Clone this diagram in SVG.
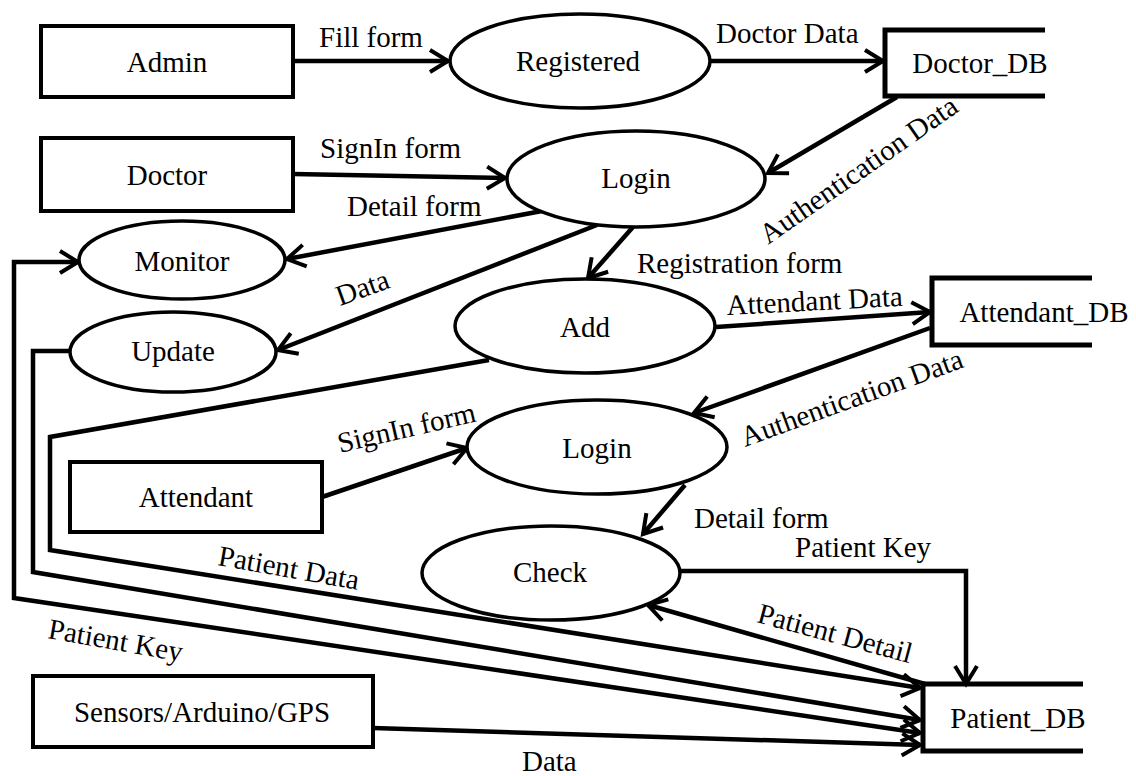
<svg xmlns="http://www.w3.org/2000/svg" width="1136" height="776" viewBox="0 0 1136 776" font-family="'Liberation Serif', 'DejaVu Serif', 'Times New Roman', serif">
<style>
text{font-family:'Liberation Serif','DejaVu Serif','Times New Roman',serif;font-size:29px;fill:#000}
.c{text-anchor:middle}
.box{fill:#fff;stroke:#000;stroke-width:4}
.proc{fill:#fff;stroke:#000;stroke-width:3.5}
.db{fill:none;stroke:#000;stroke-width:5}
.ln{fill:none;stroke:#000;stroke-width:4.5;stroke-linejoin:miter}
.a{marker-end:url(#ah)}
</style>
<defs>
<marker id="ah" viewBox="-2 -2 24 26" refX="18" refY="11" markerWidth="24" markerHeight="26" markerUnits="userSpaceOnUse" orient="auto">
<path d="M0,0 L18,11 L0,22" fill="none" stroke="#000" stroke-width="4"/>
</marker>
<marker id="as" viewBox="-2 -2 24 26" refX="18" refY="11" markerWidth="24" markerHeight="26" markerUnits="userSpaceOnUse" orient="auto-start-reverse">
<path d="M0,0 L18,11 L0,22" fill="none" stroke="#000" stroke-width="4"/>
</marker>
</defs>
<rect width="1136" height="776" fill="#fff"/>
<g id="connectors">
<path class="ln a" d="M293,61 H448"/>
<path class="ln a" d="M709,61 H883"/>
<path class="ln a" d="M293,174 L505,178"/>
<path class="ln a" d="M897,97 L768,173"/>
<path class="ln a" d="M542,211 L287,259"/>
<path class="ln a" d="M597,225 L278,350"/>
<path class="ln a" d="M633,227 L588,278"/>
<path class="ln a" d="M716,327 L930,312"/>
<path class="ln a" d="M930,328 L694,413"/>
<path class="ln a" d="M322,497 L467,448"/>
<path class="ln a" d="M685,485 L643,534"/>
<path class="ln a" d="M680,571 H966 V684"/>
<path class="ln a" d="M925,684 L648,605"/>
<path class="ln a" d="M489,360 L50,437 V550 L920,688"/>
<path class="ln a" d="M71,351 H33 V572 L920,720"/>
<path class="ln" d="M78,262 H14 V598 L920,733" marker-start="url(#as)" marker-end="url(#ah)"/>
<path class="ln a" d="M373,728 L920,745"/>
<text x="319" y="47">Fill form</text>
<text x="716" y="43">Doctor Data</text>
<text x="320" y="158">SignIn form</text>
<text x="347" y="216">Detail form</text>
<text transform="translate(768,245) rotate(-35)">Authentication Data</text>
<text transform="translate(340,306) rotate(-20)">Data</text>
<text x="637" y="273">Registration form</text>
<text transform="translate(727,315) rotate(-3)">Attendant Data</text>
<text transform="translate(745,447) rotate(-20)">Authentication Data</text>
<text transform="translate(340,453) rotate(-13)">SignIn form</text>
<text x="694" y="528">Detail form</text>
<text x="795" y="557">Patient Key</text>
<text transform="translate(756,622) rotate(15)">Patient Detail</text>
<text transform="translate(217,565) rotate(10)">Patient Data</text>
<text transform="translate(47,638) rotate(10)">Patient Key</text>
<text x="522" y="771">Data</text>
</g>
<g id="admin"><rect class="box" x="41" y="26" width="252" height="71"/><text class="c" x="167" y="72">Admin</text></g>
<g id="doctor"><rect class="box" x="41" y="138" width="252" height="73"/><text class="c" x="167" y="185">Doctor</text></g>
<g id="attendant"><rect class="box" x="70" y="462" width="252" height="70"/><text class="c" x="196" y="507">Attendant</text></g>
<g id="sensors"><rect class="box" x="33" y="676" width="340" height="71"/><text class="c" x="202" y="722">Sensors/Arduino/GPS</text></g>
<g id="registered"><ellipse class="proc" cx="580" cy="61" rx="130" ry="47"/><text class="c" x="578" y="71">Registered</text></g>
<g id="login-doctor"><ellipse class="proc" cx="636" cy="179" rx="129" ry="48"/><text class="c" x="636" y="188">Login</text></g>
<g id="monitor"><ellipse class="proc" cx="182" cy="260" rx="103" ry="39"/><text class="c" x="182" y="271">Monitor</text></g>
<g id="update"><ellipse class="proc" cx="173" cy="352" rx="103" ry="40"/><text class="c" x="173" y="361">Update</text></g>
<g id="add"><ellipse class="proc" cx="585" cy="326" rx="130" ry="47"/><text class="c" x="585" y="337">Add</text></g>
<g id="login-attendant"><ellipse class="proc" cx="597" cy="447" rx="130" ry="47"/><text class="c" x="597" y="458">Login</text></g>
<g id="check"><ellipse class="proc" cx="551" cy="573" rx="129" ry="47"/><text class="c" x="550" y="582">Check</text></g>
<g id="doctor-db"><path class="db" d="M1045,30 H885 V96 H1045"/><text class="c" x="980" y="73">Doctor_DB</text></g>
<g id="attendant-db"><path class="db" d="M1092,278 H932 V345 H1092"/><text class="c" x="1044" y="322">Attendant_DB</text></g>
<g id="patient-db"><path class="db" d="M1083,684 H923 V751 H1083"/><text class="c" x="1018" y="728">Patient_DB</text></g>
</svg>
